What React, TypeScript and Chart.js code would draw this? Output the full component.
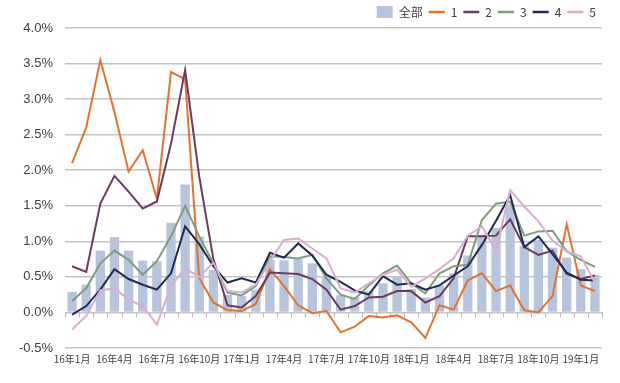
import { useEffect, useRef } from 'react';
import { Chart, registerables } from 'chart.js';

Chart.register(...registerables);

const categories: string[] = [
  '16年1月', '16年2月', '16年3月', '16年4月', '16年5月', '16年6月', '16年7月', '16年8月', '16年9月', '16年10月', '16年11月', '16年12月',
  '17年1月', '17年2月', '17年3月', '17年4月', '17年5月', '17年6月', '17年7月', '17年8月', '17年9月', '17年10月', '17年11月', '17年12月',
  '18年1月', '18年2月', '18年3月', '18年4月', '18年5月', '18年6月', '18年7月', '18年8月', '18年9月', '18年10月', '18年11月', '18年12月',
  '19年1月', '19年2月',
];

const seriesNames: string[] = ['全部', '1', '2', '3', '4', '5'];

const totalValues: number[] = [
  0.29, 0.39, 0.87, 1.06, 0.87, 0.73, 0.72, 1.26, 1.80, 1.07,
  0.60, 0.25, 0.23, 0.32, 0.74, 0.73, 0.75, 0.69, 0.50, 0.24,
  0.22, 0.30, 0.41, 0.50, 0.33, 0.21, 0.38, 0.55, 0.80, 1.08,
  1.19, 1.52, 0.94, 1.02, 0.91, 0.77, 0.61, 0.53,
];

const series1: number[] = [
  2.10, 2.60, 3.55, 2.82, 1.98, 2.28, 1.60, 3.38, 3.28, 0.48,
  0.14, 0.03, 0.02, 0.12, 0.61, 0.37, 0.10, -0.01, 0.02, -0.28,
  -0.20, -0.05, -0.07, -0.04, -0.14, -0.36, 0.10, 0.04, 0.45, 0.55,
  0.30, 0.38, 0.03, 0.00, 0.23, 1.24, 0.38, 0.30,
];

const series2: number[] = [
  0.65, 0.57, 1.53, 1.92, 1.70, 1.46, 1.56, 2.37, 3.41, 1.91,
  0.75, 0.10, 0.07, 0.23, 0.56, 0.55, 0.54, 0.47, 0.32, 0.04,
  0.09, 0.21, 0.22, 0.30, 0.30, 0.14, 0.23, 0.48, 1.07, 1.07,
  1.08, 1.31, 0.92, 0.81, 0.87, 0.54, 0.47, 0.52,
];

const series3: number[] = [
  0.16, 0.34, 0.69, 0.87, 0.74, 0.53, 0.72, 1.07, 1.50, 1.07,
  0.69, 0.28, 0.24, 0.37, 0.79, 0.78, 0.76, 0.81, 0.48, 0.25,
  0.19, 0.38, 0.55, 0.66, 0.41, 0.27, 0.55, 0.65, 0.67, 1.30,
  1.53, 1.56, 1.08, 1.14, 1.15, 0.86, 0.74, 0.64,
];

const series4: number[] = [
  -0.03, 0.09, 0.32, 0.61, 0.47, 0.39, 0.32, 0.55, 1.21, 0.96,
  0.65, 0.42, 0.48, 0.42, 0.84, 0.77, 0.97, 0.80, 0.53, 0.43,
  0.31, 0.25, 0.51, 0.39, 0.41, 0.32, 0.38, 0.52, 0.65, 0.95,
  1.29, 1.65, 0.92, 1.07, 0.82, 0.56, 0.46, 0.45,
];

const series5: number[] = [
  -0.24, -0.05, 0.31, 0.34, 0.18, 0.09, -0.17, 0.37, 0.62, 0.50,
  0.70, 0.30, 0.28, 0.39, 0.72, 1.02, 1.04, 0.90, 0.76, 0.34,
  0.28, 0.41, 0.53, 0.60, 0.36, 0.48, 0.61, 0.76, 1.08, 1.21,
  0.87, 1.72, 1.49, 1.28, 1.01, 0.86, 0.79, 0.42,
];

const lineSeries: number[][] = [series1, series2, series3, series4, series5];
const barColor = '#B7C4DE';
const lineColors: string[] = ['#E2732E', '#6C3A5E', '#7E9D7C', '#1F2B55', '#D9AECE'];

const zeroTicks = {
  id: 'zeroTicks',
  beforeDatasetsDraw(chart: any) {
    const xs = chart.scales.x;
    const ys = chart.scales.y;
    const y0 = ys.getPixelForValue(0);
    const n = chart.data.labels.length;
    const ctx = chart.ctx;
    ctx.save();
    ctx.strokeStyle = '#B8B8B8';
    ctx.lineWidth = 1;
    for (let i = 0; i <= n; i++) {
      const px = Math.round(xs.left + ((xs.right - xs.left) * i) / n) + 0.5;
      ctx.beginPath();
      ctx.moveTo(px, y0);
      ctx.lineTo(px, y0 + 5);
      ctx.stroke();
    }
    ctx.restore();
  },
};

export default function App() {
  const ref = useRef<HTMLCanvasElement | null>(null);

  useEffect(() => {
    if (!ref.current) return;
    const datasets: any[] = [
      {
        type: 'bar',
        label: seriesNames[0],
        data: totalValues,
        backgroundColor: barColor,
        borderWidth: 0,
        categoryPercentage: 1,
        barPercentage: 0.66,
        order: 10,
      },
      ...lineSeries.map((d, k) => ({
        type: 'line',
        label: seriesNames[k + 1],
        data: d,
        borderColor: lineColors[k],
        backgroundColor: lineColors[k],
        borderWidth: 2,
        pointRadius: 0,
        tension: 0,
        fill: false,
        order: 5 - k,
      })),
    ];

    const chart = new Chart(ref.current, {
      type: 'bar',
      data: { labels: categories, datasets },
      plugins: [zeroTicks],
      options: {
        animation: false,
        responsive: true,
        maintainAspectRatio: false,
        layout: { padding: { left: 17, right: 18, top: 0, bottom: 13 } },
        plugins: {
          tooltip: { enabled: false },
          legend: {
            position: 'top',
            align: 'end',
            labels: {
              usePointStyle: true,
              pointStyleWidth: 16,
              boxHeight: 12,
              padding: 6,
              color: '#404040',
              font: { family: '"Noto Sans CJK SC", sans-serif', size: 12 },
              sort: (a: any, b: any) => a.datasetIndex - b.datasetIndex,
              generateLabels: (chart: any) => {
                const items = Chart.defaults.plugins.legend.labels.generateLabels(chart);
                return items.map((it: any) => {
                  if (it.datasetIndex === 0) {
                    return { ...it, pointStyle: 'rect', fillStyle: barColor, strokeStyle: barColor, lineWidth: 0 };
                  }
                  const c = lineColors[it.datasetIndex - 1];
                  return { ...it, pointStyle: 'line', fillStyle: c, strokeStyle: c, lineWidth: 2.5 };
                });
              },
            },
          },
        },
        scales: {
          x: {
            grid: { display: false, drawTicks: false },
            border: { display: false },
            ticks: {
              autoSkip: false,
              maxRotation: 0,
              padding: 5,
              color: '#404040',
              font: { family: '"Noto Sans CJK SC", sans-serif', size: 10 },
              callback: (_v: any, idx: number) => (idx % 3 === 0 ? categories[idx] : ''),
            },
          },
          y: {
            min: -0.5,
            max: 4.0,
            afterFit: (s: any) => { s.width = 48; },
            ticks: {
              stepSize: 0.5,
              padding: 12,
              color: '#404040',
              font: { family: '"Liberation Sans", Arial, sans-serif', size: 13 },
              callback: (v: any) => Number(v).toFixed(1) + '%',
            },
            grid: { color: '#C4C4C4', lineWidth: 1.5, drawTicks: false },
            border: { display: false },
          },
        },
      },
    });
    return () => chart.destroy();
  }, []);

  return (
    <div style={{ position: 'fixed', left: 0, top: 0, width: 620, height: 383, background: '#fff' }}>
      <canvas ref={ref} />
    </div>
  );
}
